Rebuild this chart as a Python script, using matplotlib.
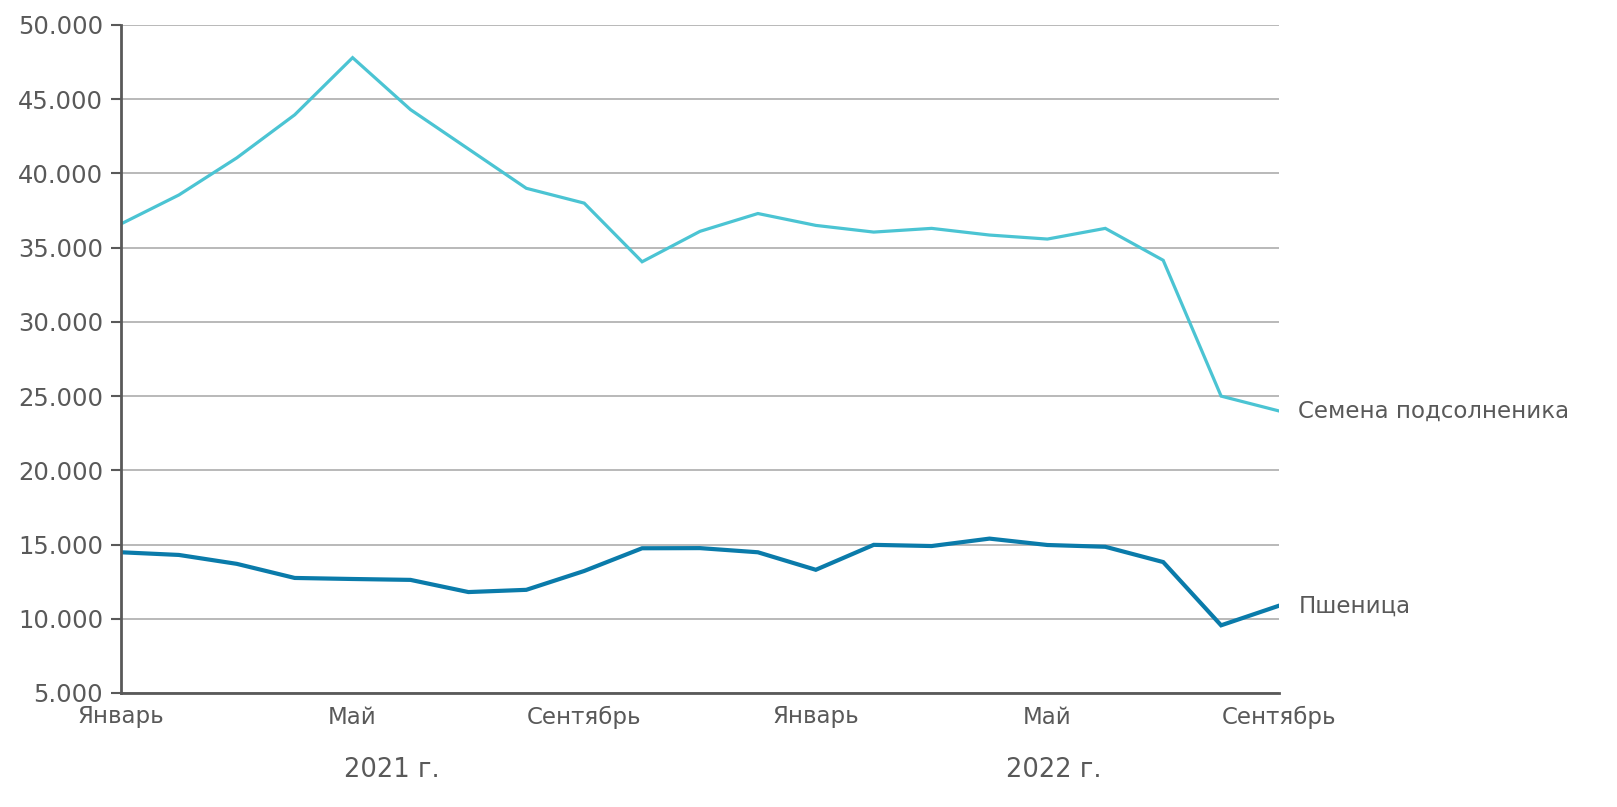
import matplotlib.pyplot as plt
from matplotlib.ticker import FuncFormatter

plt.rcParams['font.family'] = ['DejaVu Sans']

months = ["Январь", "Февраль", "Март", "Апрель", "Май", "Июнь", "Июль", "Август",
          "Сентябрь", "Октябрь", "Ноябрь", "Декабрь",
          "Январь", "Февраль", "Март", "Апрель", "Май", "Июнь", "Июль", "Август", "Сентябрь"]
sunflower = [36600, 38550, 41050, 43950, 47800, 44300, 41650, 39000, 38000, 34050,
             36100, 37300, 36500, 36050, 36300, 35850, 35580, 36300, 34150, 25000, 24000]
wheat = [14480, 14300, 13700, 12750, 12680, 12620, 11800, 11950, 13220, 14750,
         14760, 14480, 13300, 14980, 14900, 15400, 14970, 14850, 13820, 9560, 10880]
shown_ticks = [0, 4, 8, 12, 16, 20]
years = ["2021 г.", "2022 г."]
series_names = ["Семена подсолненика", "Пшеница"]

grey = "#595959"
c_light = "#4BC4D3"
c_dark = "#0A7BAA"

fig = plt.figure(figsize=(16.17, 8.07), dpi=100)
ax = fig.add_axes([121/1617, 1 - 693/807, (1279-121)/1617, (693-25)/807])

x = list(range(len(months)))
ax.plot(x, sunflower, color=c_light, lw=2.3, solid_joinstyle="miter")
ax.plot(x, wheat, color=c_dark, lw=3.0, solid_joinstyle="miter")

ax.set_xlim(0, len(months) - 1)
ax.set_ylim(5000, 50000)
ax.set_yticks(range(5000, 50001, 5000))
ax.yaxis.set_major_formatter(FuncFormatter(lambda v, p: f"{int(v):,}".replace(",", ".")))
ax.set_xticks(shown_ticks)
ax.set_xticklabels([months[i] for i in shown_ticks])

ax.grid(axis="y", color="#A6A6A6", lw=1.1)
ax.set_axisbelow(True)
for s in ["top", "right"]:
    ax.spines[s].set_visible(False)
for s in ["left", "bottom"]:
    ax.spines[s].set_color(grey)
    ax.spines[s].set_linewidth(2)

ax.tick_params(axis="y", length=7, width=1.5, color=grey, labelcolor=grey, labelsize=17.5, pad=6)
ax.tick_params(axis="x", length=0, labelcolor=grey, labelsize=16.5, pad=9)

# series labels at the right end
ax.annotate(series_names[0], (x[-1], sunflower[-1]), xytext=(14, 0), textcoords="offset points",
            va="center", ha="left", color=grey, fontsize=16.5, annotation_clip=False)
ax.annotate(series_names[1], (x[-1], wheat[-1]), xytext=(14, 0), textcoords="offset points",
            va="center", ha="left", color=grey, fontsize=16.5, annotation_clip=False)

# year labels
fig.text(392/1617, 1 - 770/807, years[0], ha="center", va="center", color=grey, fontsize=18.5)
fig.text(1054/1617, 1 - 770/807, years[1], ha="center", va="center", color=grey, fontsize=18.5)

fig.savefig("out.png", dpi=100)
